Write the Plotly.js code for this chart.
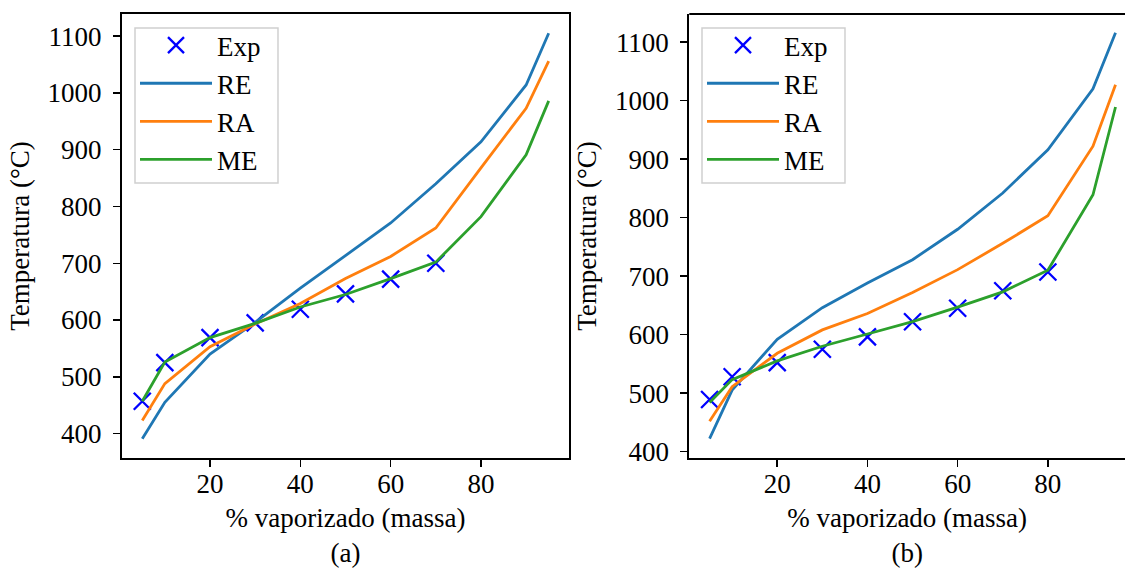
<!DOCTYPE html>
<html>
<head>
<meta charset="utf-8">
<script src="https://cdn.plot.ly/plotly-3.0.1.min.js"></script>
<style>html,body{margin:0;padding:0;background:#fff;}#chart{width:1125px;height:568px;}</style>
</head>
<body>
<div id="chart"></div>
<script>
// Shared x positions (% vaporized, mass)
const xModel = [5, 10, 20, 30, 40, 50, 60, 70, 80, 90, 95];
const xExpA = [5, 10, 20, 30, 40, 50, 60, 70];
const xExpB = [5, 10, 20, 30, 40, 50, 60, 70, 80];

// Panel (a)
const expA = [457, 525, 569, 595, 619, 646, 672, 700];
const reA  = [391, 455, 540, 596, 656, 714, 771, 840, 914, 1014, 1105];
const raA  = [423, 488, 553, 593, 629, 673, 712, 762, 868, 973, 1056];
const meA  = [457, 526, 569, 594, 623, 645, 673, 702, 782, 891, 986];

// Panel (b)
const expB = [489, 528, 552, 575, 596, 622, 645, 675, 707];
const reB  = [422, 505, 592, 646, 688, 728, 780, 842, 916, 1020, 1116];
const raB  = [452, 511, 568, 608, 636, 672, 711, 756, 803, 922, 1027];
const meB  = [484, 523, 555, 580, 601, 622, 647, 673, 710, 839, 989];

const xTicks = [20, 40, 60, 80];
const yTicksA = [400, 500, 600, 700, 800, 900, 1000, 1100];
const yTicksB = [400, 500, 600, 700, 800, 900, 1000, 1100];

const names = ['Exp', 'RE', 'RA', 'ME'];
const colors = ['#0000ff', '#1f77b4', '#ff7f0e', '#2ca02c'];
const FONT = 'Liberation Serif';
const FS = 27;

function panel(xa, ya, leg, xExp, exp, re, ra, me) {
  const out = [{
    x: xExp, y: exp, name: names[0], type: 'scatter', mode: 'markers',
    xaxis: xa, yaxis: ya, legend: leg,
    marker: {symbol: 'x-thin-open', size: 17, color: colors[0], line: {color: colors[0], width: 2.3}}
  }];
  [re, ra, me].forEach((ys, i) => {
    out.push({
      x: xModel, y: ys, name: names[i + 1], type: 'scatter', mode: 'lines',
      xaxis: xa, yaxis: ya, legend: leg,
      line: {color: colors[i + 1], width: 2.8}
    });
  });
  return out;
}

const data = [].concat(
  panel('x', 'y', 'legend', xExpA, expA, reA, raA, meA),
  panel('x2', 'y2', 'legend2', xExpB, expB, reB, raB, meB)
);

const axFont = {family: FONT, size: FS, color: '#000'};
function xaxis(domain, range, label, mirror) {
  return {
    domain: domain, range: range, tickvals: xTicks, ticks: 'outside', ticklen: 7, tickwidth: 1.5,
    tickcolor: '#000', showline: true, linecolor: '#000', linewidth: 2, mirror: mirror,
    showgrid: false, zeroline: false, tickfont: axFont, ticklabelstandoff: -6,
    title: {text: label, font: {family: FONT, size: FS, color: '#000'}, standoff: 14}
  };
}
function yaxis(anchor, range, ticks, mirror) {
  return {
    anchor: anchor, domain: [0, 1], range: range, tickvals: ticks, ticks: 'outside', ticklen: 7, tickwidth: 1.5,
    tickcolor: '#000', showline: true, linecolor: '#000', linewidth: 2, mirror: mirror,
    showgrid: false, zeroline: false, tickfont: axFont, ticklabelstandoff: 6,
    title: {text: 'Temperatura (°C)', font: {family: FONT, size: FS, color: '#000'}, standoff: 10}
  };
}

const legendBase = {
  bgcolor: 'rgba(0,0,0,0)', borderwidth: 0,
  font: {family: FONT, size: FS, color: '#000'}, xanchor: 'left', yanchor: 'top',
  itemwidth: 72, tracegroupgap: 0
};

function legendBox(x0, x1) {
  return {type: 'rect', xref: 'paper', yref: 'paper', x0: x0, x1: x1, y0: 0.6194, y1: 0.9685,
          layer: 'above', fillcolor: 'rgba(255,255,255,0.8)', line: {color: '#d0d0d0', width: 1.5}};
}

const layout = {
  width: 1125, height: 568,
  margin: {l: 0, r: 0, t: 14, b: 110},
  paper_bgcolor: '#fff', plot_bgcolor: '#fff',
  font: {family: FONT, color: '#000'},
  xaxis: xaxis([0.1084, 0.5058], [0.5, 99.5], '% vaporizado (massa)<br>(a)', true),
  yaxis: yaxis('x', [357, 1139], yTicksA, true),
  xaxis2: Object.assign(xaxis([0.6127, 1.0], [0.5, 97.1], '% vaporizado (massa)<br>(b)', false), {anchor: 'y2'}),
  yaxis2: yaxis('x2', [389, 1148], yTicksB, false),
  legend: Object.assign({}, legendBase, {x: 0.12, y: 0.984}),
  legend2: Object.assign({}, legendBase, {x: 0.624, y: 0.984}),
  shapes: [
    {type: 'line', xref: 'paper', yref: 'paper', x0: 0.6127, x1: 1.0, y0: 1, y1: 1, line: {color: '#000', width: 2}},
    legendBox(0.12, 0.2471),
    legendBox(0.624, 0.7511)
  ]
};

Plotly.newPlot('chart', data, layout, {displayModeBar: false, staticPlot: true});
</script>
</body>
</html>
